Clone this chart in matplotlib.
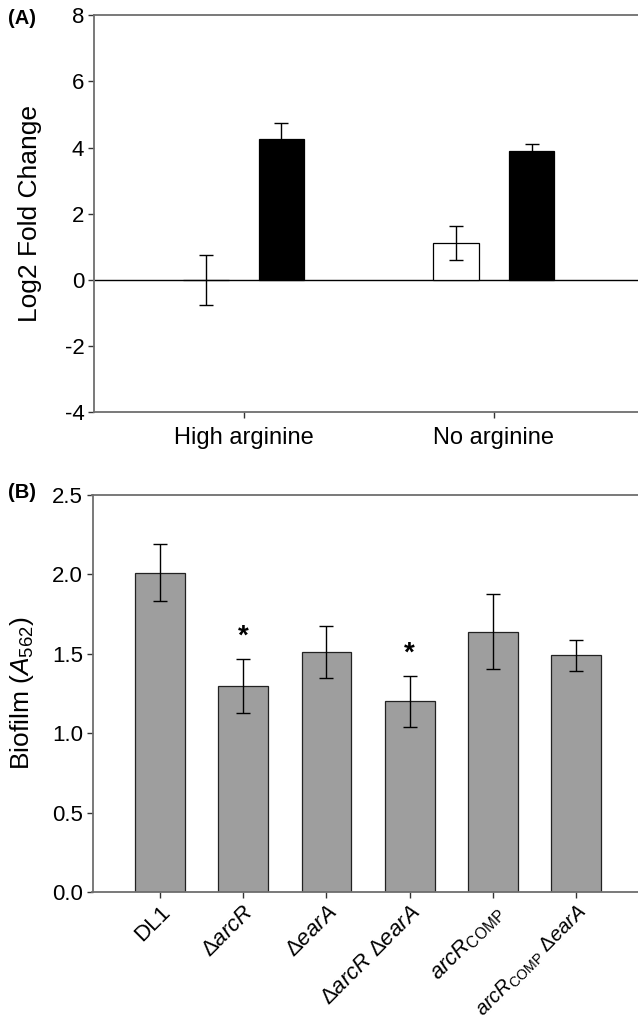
"""Two-panel bar figure: (A) log2 fold change, (B) biofilm A562 per strain."""
import matplotlib
matplotlib.use("Agg")
import matplotlib.pyplot as plt
import numpy as np

plt.rcParams["font.family"] = ["Liberation Sans", "DejaVu Sans"]
plt.rcParams["mathtext.fontset"] = "custom"
plt.rcParams["mathtext.rm"] = "Liberation Sans"
plt.rcParams["mathtext.it"] = "Liberation Sans:italic"
plt.rcParams["mathtext.bf"] = "Liberation Sans:bold"
plt.rcParams["axes.unicode_minus"] = False

# --- data: panel A --------------------------------------------------------
groups = ["High arginine", "No arginine"]
white_vals = [0.0, 1.12]
white_err = [0.75, 0.52]
black_vals = [4.25, 3.90]
black_err = [0.50, 0.22]

# --- data: panel B --------------------------------------------------------
strains = [
    "DL1",
    r"$\Delta\mathit{arcR}$",
    r"$\Delta\mathit{earA}$",
    r"$\Delta\mathit{arcR}\ \Delta\mathit{earA}$",
    r"$\mathit{arcR}_{\mathrm{COMP}}$",
    r"$\mathit{arcR}_{\mathrm{COMP}}\ \Delta\mathit{earA}$",
]
biofilm = [2.01, 1.30, 1.51, 1.20, 1.64, 1.49]
biofilm_err = [0.18, 0.17, 0.165, 0.16, 0.235, 0.10]
significant = [False, True, False, True, False, False]

SPINE = "#6e6e6e"
W, H = 638, 1028
fig = plt.figure(figsize=(W / 100, H / 100), dpi=100)


def style(ax):
    for s in ("left", "top", "bottom"):
        ax.spines[s].set_color(SPINE)
        ax.spines[s].set_linewidth(1.3)
    ax.spines["right"].set_visible(False)
    ax.tick_params(direction="out", length=4, width=1, color="#333333",
                   labelsize=16, pad=3)


# --- Panel A --------------------------------------------------------------
ax1 = fig.add_axes([94 / W, 1 - 412 / H, 1 - 94 / W, (412 - 15.3) / H])
style(ax1)
x = np.arange(len(groups))
off, bw = 0.151, 0.182
ax1.bar(x - off, white_vals, bw, color="white", edgecolor="black", linewidth=0.9, zorder=2)
ax1.bar(x + off, black_vals, bw, color="black", edgecolor="black", linewidth=0.9, zorder=2)
ax1.errorbar(x - off, white_vals, yerr=white_err, fmt="none", ecolor="black",
             elinewidth=1, capsize=5, capthick=1, zorder=3)
ax1.errorbar(x + off, black_vals, yerr=black_err, fmt="none", ecolor="black",
             elinewidth=1, capsize=5, capthick=1, zorder=3)
ax1.axhline(0, color="black", linewidth=1, zorder=1)
ax1.set_xlim(-0.598, 1.576)
ax1.set_ylim(-4, 8)
ax1.set_yticks(np.arange(-4, 9, 2))
ax1.set_xticks(x)
ax1.tick_params(axis="x", pad=7, labelsize=17)
ax1.set_xticklabels(groups)
ax1.set_ylabel("Log2 Fold Change", fontsize=19)
ax1.yaxis.set_label_coords(-0.095, 0.5)
fig.text(8 / W, 1 - 18 / H, "(A)", fontsize=14.5, fontweight="bold", va="center", ha="left")

# --- Panel B --------------------------------------------------------------
ax2 = fig.add_axes([92.5 / W, 1 - 892 / H, 1 - 92.5 / W, (892 - 495) / H])
style(ax2)
xb = np.arange(len(strains))
ax2.bar(xb, biofilm, 0.6, color="#9e9e9e", edgecolor="#222222", linewidth=0.9, zorder=2)
ax2.errorbar(xb, biofilm, yerr=biofilm_err, fmt="none", ecolor="black",
             elinewidth=1, capsize=5, capthick=1, zorder=3)
for xi, v, e, sig in zip(xb, biofilm, biofilm_err, significant):
    if sig:
        ax2.text(xi, v + e + 0.14, "*", ha="center", va="center",
                 fontsize=20, fontweight="bold")
ax2.set_xlim(-0.8125, 5.744)
ax2.set_ylim(0, 2.5)
ax2.set_yticks(np.arange(0, 2.51, 0.5))
ax2.yaxis.set_major_formatter(matplotlib.ticker.FormatStrFormatter("%.1f"))
ax2.set_xticks(xb)
ax2.tick_params(axis="x", pad=3)
labels = ax2.set_xticklabels(strains, rotation=45, ha="right", va="top",
                             rotation_mode="anchor", fontsize=16)
# the longest label is shrunk a little so it stays inside the canvas
labels[-1].set_fontsize(14.5)
ax2.set_ylabel(r"Biofilm ($\mathit{A}_{562}$)", fontsize=19)
ax2.yaxis.set_label_coords(-0.104, 0.5)
fig.text(8 / W, 1 - 492 / H, "(B)", fontsize=14.5, fontweight="bold", va="center", ha="left")

fig.savefig("out.png", dpi=100)
